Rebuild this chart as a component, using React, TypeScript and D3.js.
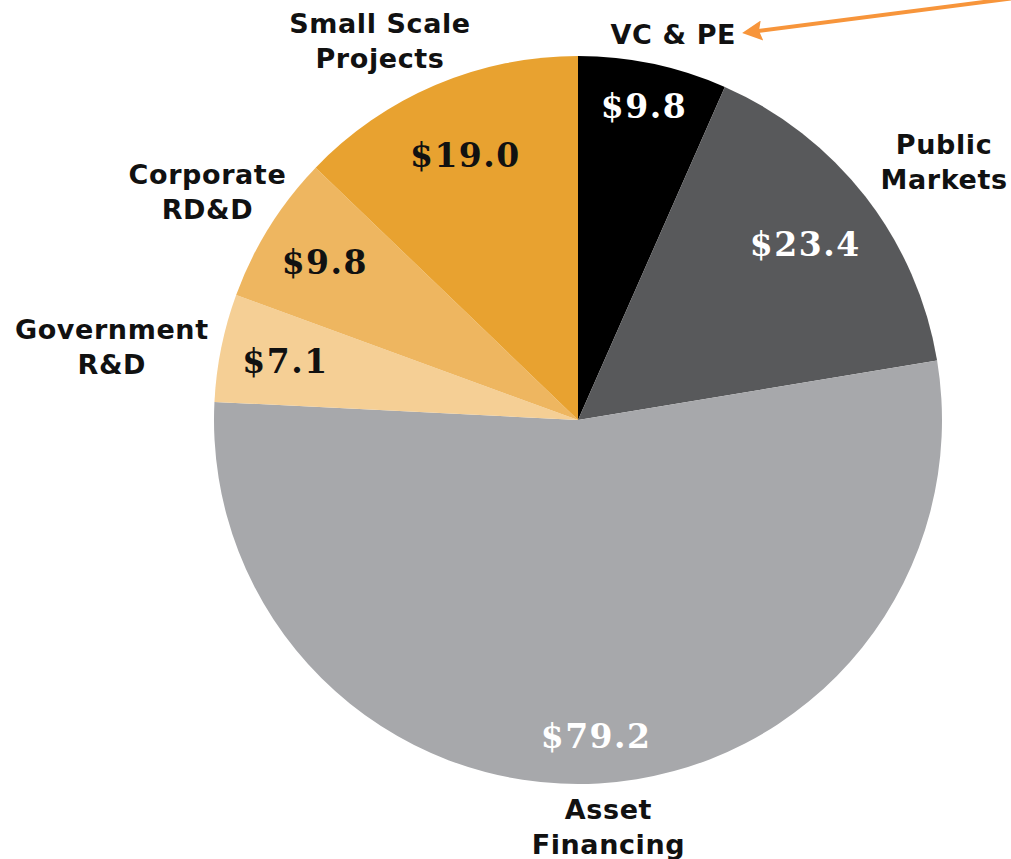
import React from "react";
import * as d3 from "d3";

// investment by type, $bn
const categories = ["VC & PE", "Public Markets", "Asset Financing", "Government R&D", "Corporate RD&D", "Small Scale Projects"];
const values = [9.8, 23.4, 79.2, 7.1, 9.8, 19.0];
const labelLines = [["VC & PE"], ["Public", "Markets"], ["Asset", "Financing"], ["Government", "R&D"], ["Corporate", "RD&D"], ["Small Scale", "Projects"]];

const colors = ["#000000", "#58595b", "#a7a8ab", "#f5cf95", "#eeb660", "#e8a230"];
const valueColors = ["#ffffff", "#ffffff", "#ffffff", "#111111", "#111111", "#111111"];

// label placement (fraction of radius for values, [angle shift deg, radius px] for names)
const valueRadius = [0.88, 0.79, 0.87, 0.82, 0.82, 0.79];
const nameAnchor = [[2, 397], [2.6, 448], [-1, 408], [-2.5, 472], [-0.4, 435], [-4.5, 428]];

const width = 1011;
const height = 859;
const cx = 578;
const cy = 420;
const radius = 364;

export default function App() {
  const pie = d3.pie<number>().sort(null).value((d) => d);
  const arcs = pie(values);
  const arc = d3.arc<d3.PieArcDatum<number>>().innerRadius(0).outerRadius(radius);

  const polar = (angle: number, r: number) => [Math.sin(angle) * r, -Math.cos(angle) * r];

  return (
    <svg width={width} height={height} style={{ position: "absolute", left: 0, top: 0, background: "#fff" }}>
      <defs>
        <marker id="arrow" viewBox="0 0 10 10" refX="2" refY="5" markerWidth="5.5" markerHeight="5" orient="auto-start-reverse">
          <path d="M0,0 L10,5 L0,10 L1.5,5 z" fill="#f7953b" />
        </marker>
      </defs>
      <g transform={`translate(${cx},${cy})`}>
        {arcs.map((a, i) => (
          <path key={categories[i]} d={arc(a) as string} fill={colors[i]} />
        ))}
        {arcs.map((a, i) => {
          const mid = (a.startAngle + a.endAngle) / 2;
          const [x, y] = polar(mid, radius * valueRadius[i]);
          return (
            <text
              key={"v" + i}
              x={x}
              y={y}
              dy="0.36em"
              textAnchor="middle"
              fontFamily="DejaVu Serif"
              fontWeight="bold"
              fontSize={33}
              letterSpacing={1.5}
              fill={valueColors[i]}
            >
              ${values[i].toFixed(1)}
            </text>
          );
        })}
        {arcs.map((a, i) => {
          const mid = (a.startAngle + a.endAngle) / 2 + (nameAnchor[i][0] * Math.PI) / 180;
          const [x, y] = polar(mid, nameAnchor[i][1]);
          const lines = labelLines[i];
          const lh = 35;
          const top = y - ((lines.length - 1) * lh) / 2;
          return (
            <text
              key={"n" + i}
              textAnchor="middle"
              fontFamily="DejaVu Sans"
              fontWeight="bold"
              fontSize={27}
              letterSpacing={0.6}
              fill="#111"
            >
              {lines.map((l, j) => (
                <tspan key={j} x={x} y={top + j * lh} dy="0.36em">
                  {l}
                </tspan>
              ))}
            </text>
          );
        })}
      </g>
      <line x1={1015} y1={-2} x2={758} y2={31} stroke="#f7953b" strokeWidth={4} markerEnd="url(#arrow)" />
    </svg>
  );
}
